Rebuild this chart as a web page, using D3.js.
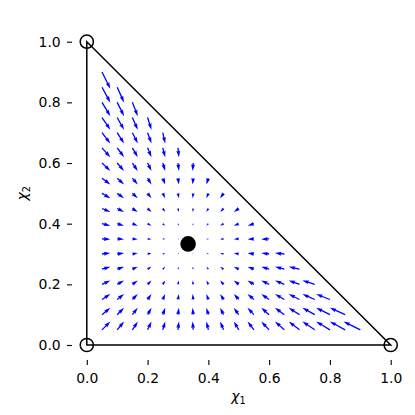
<!DOCTYPE html>
<html>
<head>
<meta charset="utf-8">
<script src="https://cdn.jsdelivr.net/npm/d3@7"></script>
<style>
  body { margin: 0; background: #fff; }
  svg { display: block; font-family: "DejaVu Sans", sans-serif; }
</style>
</head>
<body>
<div id="chart"></div>
<script>
// grid of sample points (same values on both axes)
var gridX = [0.05, 0.10, 0.15, 0.20, 0.25, 0.30, 0.35, 0.40, 0.45, 0.50, 0.55, 0.60, 0.65, 0.70, 0.75, 0.80, 0.85, 0.90];
var gridY = [0.05, 0.10, 0.15, 0.20, 0.25, 0.30, 0.35, 0.40, 0.45, 0.50, 0.55, 0.60, 0.65, 0.70, 0.75, 0.80, 0.85, 0.90];
// arrow components read per column (u) and per row (v)
var uByColumn = [0.283, 0.233, 0.183, 0.133, 0.083, 0.033, -0.017, -0.067, -0.117, -0.167, -0.217, -0.267, -0.317, -0.367, -0.417, -0.467, -0.517, -0.567];
var vByRow = [0.283, 0.233, 0.183, 0.133, 0.083, 0.033, -0.017, -0.067, -0.117, -0.167, -0.217, -0.267, -0.317, -0.367, -0.417, -0.467, -0.517, -0.567];
var vertices = [[0, 0], [1, 0], [0, 1]];
var fixedPoint = [1 / 3, 1 / 3];
var ticks = [0, 0.2, 0.4, 0.6, 0.8, 1.0];
var xLabel = 'χ', xSub = '1';
var yLabel = 'χ', ySub = '2';

var W = 415, H = 415;
var x = d3.scaleLinear().domain([0, 1]).range([86.8, 390.7]);
var y = d3.scaleLinear().domain([0, 1]).range([345, 41.7]);
var arrowLen = d3.scaleLinear().domain([0, 1]).range([0, 29.5]);

var svg = d3.select('#chart').append('svg').attr('width', W).attr('height', H);

// build the field, only points inside the simplex
var field = [];
gridX.forEach(function(gx, i) {
    gridY.forEach(function(gy, j) {
        if (gx + gy <= 0.951) field.push({x: gx, y: gy, u: uByColumn[i], v: vByRow[j]});
    });
});

// triangle
svg.append('path')
    .attr('d', d3.line().x(function(d) {return x(d[0]);}).y(function(d) {return y(d[1]);})(vertices) + 'Z')
    .attr('fill', 'none')
    .attr('stroke', '#000')
    .attr('stroke-width', 1.5)
    .attr('stroke-linejoin', 'miter');

// quiver-like arrow polygon in local coords, pointing along +x
var sw = 1.3;
function arrowPoints(L) {
    var hl = 5 * sw, hal = 4.5 * sw, hw = 1.5 * sw, s = 1;
    var L0 = L;
    if (L < hl) { s = L / hl; L0 = hl; }
    var pts = [[0, -sw / 2], [L0 - hal, -sw / 2], [L0 - hl, -hw], [L0, 0],
               [L0 - hl, hw], [L0 - hal, sw / 2], [0, sw / 2]];
    return pts.map(function(p) {return [p[0] * s, p[1] * s];});
}

svg.append('g').selectAll('polygon')
    .data(field)
    .enter().append('polygon')
    .attr('points', function(d) {
        var L = arrowLen(Math.sqrt(d.u * d.u + d.v * d.v));
        return arrowPoints(Math.max(L, 0.8)).map(function(p) {return p.join(',');}).join(' ');
    })
    .attr('transform', function(d) {
        var ang = Math.atan2(-d.v, d.u) * 180 / Math.PI;
        return 'translate(' + x(d.x) + ',' + y(d.y) + ') rotate(' + ang + ')';
    })
    .attr('fill', '#0000ff');

// vertex circles
svg.append('g').selectAll('circle')
    .data(vertices)
    .enter().append('circle')
    .attr('cx', function(d) {return x(d[0]);})
    .attr('cy', function(d) {return y(d[1]);})
    .attr('r', 6.6)
    .attr('fill', 'none')
    .attr('stroke', '#000')
    .attr('stroke-width', 1.5);

svg.append('circle')
    .attr('cx', x(fixedPoint[0]))
    .attr('cy', y(fixedPoint[1]))
    .attr('r', 7.8)
    .attr('fill', '#000');

// axes, spines hidden and offset
var fmt = d3.format('.1f');
var gx = svg.append('g')
    .attr('transform', 'translate(0,360)')
    .call(d3.axisBottom(x).tickValues(ticks).tickFormat(fmt).tickSize(5).tickPadding(8));
var gy = svg.append('g')
    .attr('transform', 'translate(72,0)')
    .call(d3.axisLeft(y).tickValues(ticks).tickFormat(fmt).tickSize(5).tickPadding(6.3));
[gx, gy].forEach(function(g) {
    g.select('.domain').remove();
    g.selectAll('line').attr('stroke', '#000').attr('stroke-width', 1.1);
    g.selectAll('text').attr('fill', '#000').style('font-size', '13.9px').style('font-family', '"DejaVu Sans", sans-serif');
});

var xl = svg.append('text')
    .attr('x', 238.5).attr('y', 401)
    .attr('text-anchor', 'middle')
    .style('font-size', '13.9px');
xl.append('tspan').style('font-style', 'italic').text(xLabel);
xl.append('tspan').attr('dy', 2.5).style('font-size', '9.7px').text(xSub);

var yl = svg.append('text')
    .attr('transform', 'translate(27,193.3) rotate(-90)')
    .attr('text-anchor', 'middle')
    .style('font-size', '13.9px');
yl.append('tspan').style('font-style', 'italic').text(yLabel);
yl.append('tspan').attr('dy', 2.5).style('font-size', '9.7px').text(ySub);
</script>
</body>
</html>
